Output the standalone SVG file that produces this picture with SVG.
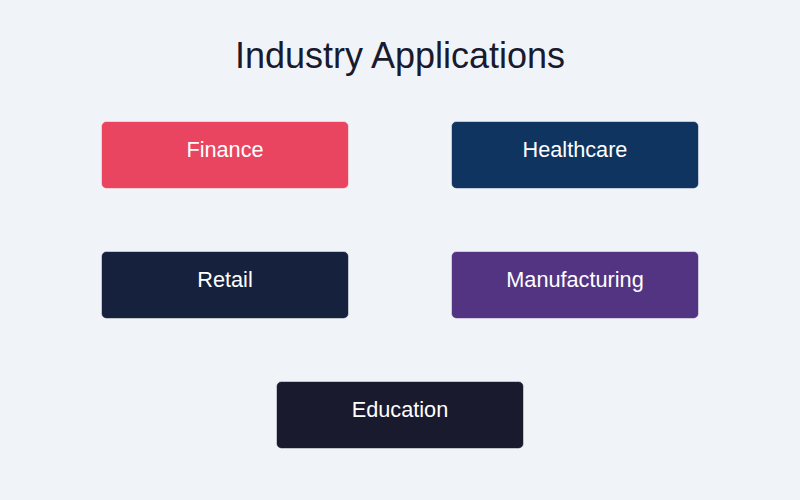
<svg xmlns="http://www.w3.org/2000/svg" width="800" height="500" viewBox="0 0 800 500">
  <style>
    .box { stroke: #ffffff; stroke-width: 1; stroke-opacity: 0.5; }
    .label { font-family: "Liberation Sans", Arial, sans-serif; font-size: 21.7px; fill: #ffffff; text-anchor: middle; }
    .title { font-family: "Liberation Sans", Arial, sans-serif; font-size: 36px; fill: #1a1a2e; text-anchor: middle; }
  </style>
  <rect x="0" y="0" width="800" height="500" fill="#f0f4f8"/>
  <text class="title" x="400" y="68">Industry Applications</text>
  <g id="connectors"></g>
  <g id="finance">
    <rect class="box" x="101.5" y="121.5" width="247" height="67" rx="5" fill="#e94560"/>
    <text class="label" x="225" y="157">Finance</text>
  </g>
  <g id="healthcare">
    <rect class="box" x="451.5" y="121.5" width="247" height="67" rx="5" fill="#0f3460"/>
    <text class="label" x="575" y="157">Healthcare</text>
  </g>
  <g id="retail">
    <rect class="box" x="101.5" y="251.5" width="247" height="67" rx="5" fill="#16213e"/>
    <text class="label" x="225" y="287">Retail</text>
  </g>
  <g id="manufacturing">
    <rect class="box" x="451.5" y="251.5" width="247" height="67" rx="5" fill="#533483"/>
    <text class="label" x="575" y="287">Manufacturing</text>
  </g>
  <g id="education">
    <rect class="box" x="276.5" y="381.5" width="247" height="67" rx="5" fill="#1a1a2e"/>
    <text class="label" x="400" y="417">Education</text>
  </g>
</svg>
